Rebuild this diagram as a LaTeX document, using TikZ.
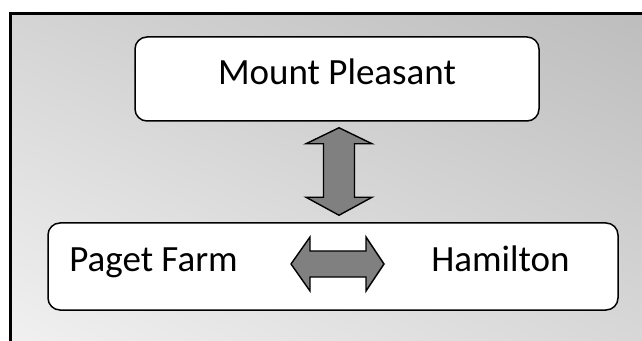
\documentclass[tikz,border=0pt]{standalone}
\usepackage{fontspec}
\setmainfont{Carlito}
\usetikzlibrary{calc,shadings}
\definecolor{arrowgray}{HTML}{808080}
\definecolor{bgul}{HTML}{D4D4D4}
\definecolor{bgur}{HTML}{BCBCBC}
\definecolor{bgll}{HTML}{F2F2F2}
\definecolor{bglr}{HTML}{D8D8D8}
\tikzset{
  placebox/.style={draw=black, line width=1.5pt, fill=white, rounded corners=12pt, inner sep=0pt},
  placelabel/.style={font=\fontsize{37}{44}\selectfont, anchor=base, inner sep=0pt},
  blockarrow/.style={draw=black, line width=1.4pt, fill=arrowgray, line join=miter}
}
\begin{document}
\begin{tikzpicture}[x=1pt, y=1pt]
  \useasboundingbox (0,0) rectangle (642,340);
  \clip (0,0) rectangle (642,340);
  % shaded frame
  \shade[upper left=bgul, upper right=bgur, lower left=bgll, lower right=bglr]
    (10,-20) rectangle (670,326.5);
  \draw[line width=3pt] (10,-20) rectangle (670,326.5);

  % places
  \node[placebox, minimum width=404pt, minimum height=84pt] (mp) at (337,261) {};
  \node[placebox, minimum width=570pt, minimum height=87pt] (low) at (333,73.5) {};

  \node[placelabel] (mpt) at (337,255) {Mount Pleasant};
  \node[placelabel] (pf) at (153.5,68) {Paget Farm};
  \node[placelabel] (ham) at (500.5,68) {Hamilton};

  % vertical link between the two boxes
  \coordinate (vt) at ($(mp.south)+(2,-6)$);
  \coordinate (vb) at ($(low.north)+(6,7)$);
  \draw[blockarrow]
    (vt) -- ++(33,-16) -- ++(-17.5,0) -- ($(vb)+(15.5,18)$) -- ++(17.5,0)
    -- (vb) -- ++(-33,18) -- ++(17.5,0) -- ($(vt)+(-15.5,-16)$) -- ++(-17.5,0) -- cycle;

  % horizontal link between the two lower names
  \coordinate (hl) at (291,76);
  \coordinate (hr) at (384,76);
  \draw[blockarrow]
    (hl) -- ++(19,27) -- ++(0,-14) -- ($(hr)+(-18,13)$) -- ++(0,14)
    -- (hr) -- ++(-18,-27) -- ++(0,14) -- ($(hl)+(19,-13)$) -- ++(0,-14) -- cycle;
\end{tikzpicture}
\end{document}
